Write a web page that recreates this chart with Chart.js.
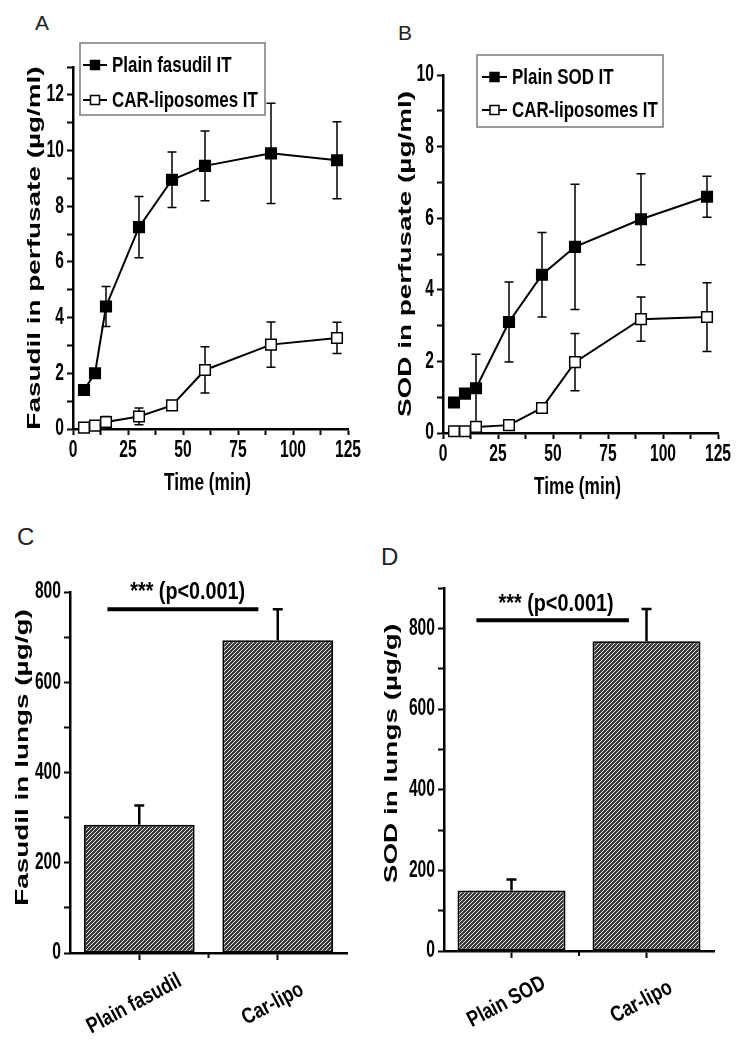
<!DOCTYPE html>
<html>
<head>
<meta charset="utf-8">
<script src="https://cdn.jsdelivr.net/npm/chart.js@4.4.0/dist/chart.umd.min.js"></script>
<style>
  html, body { margin: 0; padding: 0; background: #fff; }
  body { width: 740px; height: 1049px; position: relative; overflow: hidden; }
  canvas { position: absolute; }
  .letter { position: absolute; font-family: "Liberation Sans", Arial, sans-serif; line-height: 1; color: #222; }
</style>
</head>
<body>
<div class="letter" style="left:35px;top:12px;font-size:21px">A</div>
<div class="letter" style="left:398px;top:22px;font-size:21px">B</div>
<div class="letter" style="left:17px;top:525px;font-size:24px">C</div>
<div class="letter" style="left:381px;top:545px;font-size:24px">D</div>
<canvas id="chartA" width="370" height="520" style="left:0;top:0"></canvas>
<canvas id="chartB" width="370" height="520" style="left:370px;top:0"></canvas>
<canvas id="chartC" width="370" height="529" style="left:0;top:520px"></canvas>
<canvas id="chartD" width="370" height="529" style="left:370px;top:520px"></canvas>
<script>
// panel A - fasudil in perfusate
const timeA = [5, 10, 15, 30, 45, 60, 90, 120];
const plainFasudil = [1.4, 2.0, 4.4, 7.25, 8.95, 9.45, 9.9, 9.65];
const plainFasudilErr = [0.1, 0.1, 0.72, 1.1, 1.0, 1.25, 1.8, 1.38];
const carFasudil = [0.05, 0.12, 0.25, 0.45, 0.85, 2.12, 3.03, 3.27];
const carFasudilErr = [0.03, 0.05, 0.2, 0.3, 0.15, 0.83, 0.81, 0.56];

// panel B - SOD in perfusate
const timeB = [5, 10, 15, 30, 45, 60, 90, 120];
const plainSOD = [0.85, 1.1, 1.25, 3.1, 4.42, 5.2, 5.97, 6.6];
const plainSODErr = [0.05, 0.08, 0.95, 1.12, 1.18, 1.75, 1.27, 0.57];
const carSOD = [0.05, 0.05, 0.17, 0.22, 0.7, 1.98, 3.18, 3.24];
const carSODErr = [0.02, 0.02, 0.1, 0.12, 0.08, 0.8, 0.62, 0.96];

// panels C and D - lung content
const groupsC = ["Plain fasudil", "Car-lipo"];
const lungFasudil = [284, 693];
const lungFasudilErr = [43, 69];
const groupsD = ["Plain SOD", "Car-lipo"];
const lungSOD = [150, 768];
const lungSODErr = [27, 80];

const ink = "#000";
const sans = '"Liberation Sans", Arial, sans-serif';

function hatch() {
  const c = document.createElement("canvas");
  c.width = 4; c.height = 4;
  const g = c.getContext("2d");
  g.fillStyle = "#3a3a3a";
  g.fillRect(0, 0, 4, 4);
  g.strokeStyle = "#e8e8e8";
  g.lineWidth = 1;
  g.beginPath();
  g.moveTo(-1, 5); g.lineTo(5, -1);
  g.moveTo(3, 5); g.lineTo(5, 3);
  g.moveTo(-1, 1); g.lineTo(1, -1);
  g.stroke();
  return g.createPattern(c, "repeat");
}
const hatchFill = hatch();

function pts(xs, ys) {
  return xs.map((x, i) => ({ x: x, y: ys[i] }));
}

// bold text squeezed or stretched horizontally like the scanned figure
function drawText(ctx, str, x, y, o) {
  ctx.save();
  ctx.translate(x, y);
  if (o.rotate) ctx.rotate(-o.rotate * Math.PI / 180);
  ctx.scale(o.sx, 1);
  ctx.font = "bold " + o.size + "px " + sans;
  ctx.textAlign = o.align || "center";
  ctx.textBaseline = "middle";
  ctx.fillStyle = ink;
  ctx.fillText(str, 0, 0);
  ctx.restore();
}

function drawErrors(chart, upOnly) {
  const ctx = chart.ctx;
  chart.data.datasets.forEach((ds, i) => {
    if (!ds.errors) return;
    const meta = chart.getDatasetMeta(i);
    const ys = chart.scales[meta.yAxisID];
    const cap = ds.errorCap || 4.5;
    ctx.save();
    ctx.strokeStyle = ink;
    ctx.lineWidth = ds.errorWidth || 1.5;
    meta.data.forEach((el, j) => {
      const raw = ds.data[j];
      const v = typeof raw === "object" ? raw.y : raw;
      const e = ds.errors[j];
      const top = ys.getPixelForValue(v + e);
      const bot = ys.getPixelForValue(upOnly ? v : v - e);
      ctx.beginPath();
      ctx.moveTo(el.x, top); ctx.lineTo(el.x, bot);
      ctx.moveTo(el.x - cap, top); ctx.lineTo(el.x + cap, top);
      if (!upOnly) { ctx.moveTo(el.x - cap, bot); ctx.lineTo(el.x + cap, bot); }
      ctx.stroke();
    });
    ctx.restore();
  });
}

function drawLegend(chart, o) {
  const ctx = chart.ctx, a = chart.chartArea;
  const x0 = a.left + o.dx, y0 = a.top + o.dy;
  ctx.save();
  ctx.fillStyle = "#fff";
  ctx.fillRect(x0, y0, o.w, o.h);
  ctx.strokeStyle = "#7a7a7a";
  ctx.lineWidth = 1.5;
  ctx.strokeRect(x0, y0, o.w, o.h);
  chart.data.datasets.forEach((ds, i) => {
    const cy = y0 + o.firstRow + i * o.rowGap;
    const sx = x0 + o.sampleX;
    ctx.strokeStyle = ink;
    ctx.lineWidth = 2;
    ctx.beginPath(); ctx.moveTo(sx, cy); ctx.lineTo(sx + o.sampleW, cy); ctx.stroke();
    const mx = sx + o.sampleW / 2, s = 4.5;
    ctx.fillStyle = ds.pointBackgroundColor;
    ctx.fillRect(mx - s, cy - s, 2 * s, 2 * s);
    ctx.lineWidth = 1.5;
    ctx.strokeRect(mx - s, cy - s, 2 * s, 2 * s);
    drawText(ctx, ds.label, x0 + o.textX, cy + 1, { size: 22, sx: 0.77, align: "left" });
  });
  ctx.restore();
}

function drawYTitle(chart, o) {
  const a = chart.chartArea;
  drawText(chart.ctx, o.text, o.x, (a.top + a.bottom) / 2 + (o.dy || 0),
    { size: 18, sx: 1.55, rotate: 90 });
}

function drawTickLabels(chart, o) {
  const ctx = chart.ctx, xs = chart.scales.x, ys = chart.scales.y;
  ys.ticks.forEach(t => {
    if (t.value % o.yEvery !== 0) return;
    drawText(ctx, String(t.value), ys.right - 9, ys.getPixelForValue(t.value),
      { size: 23, sx: 0.68, align: "right" });
  });
  if (!o.xEvery) return;
  xs.ticks.forEach(t => {
    if (t.value % o.xEvery !== 0) return;
    drawText(ctx, String(t.value), xs.getPixelForValue(t.value), xs.top + 22,
      { size: 23, sx: 0.68 });
  });
  drawText(ctx, o.xTitle, (xs.left + xs.right) / 2 - 3, xs.top + o.xTitleDy,
    { size: 23, sx: 0.75 });
}

function drawSig(chart, o) {
  const ctx = chart.ctx, xs = chart.scales.x, ys = chart.scales.y;
  const y = ys.getPixelForValue(o.y);
  ctx.save();
  ctx.strokeStyle = ink;
  ctx.lineWidth = 4;
  ctx.beginPath();
  ctx.moveTo(xs.getPixelForValue(o.from), y);
  ctx.lineTo(xs.getPixelForValue(o.to), y);
  ctx.stroke();
  ctx.restore();
  drawText(ctx, o.text, xs.getPixelForValue(o.textX), ys.getPixelForValue(o.textY),
    { size: 23, sx: 0.86 });
}

function drawCategoryLabels(chart, o) {
  const ctx = chart.ctx, xs = chart.scales.x, a = chart.chartArea;
  // small tick between the two groups
  ctx.save();
  ctx.strokeStyle = ink;
  ctx.lineWidth = 2;
  const mid = xs.getPixelForValue(0.5);
  ctx.beginPath(); ctx.moveTo(mid, a.bottom); ctx.lineTo(mid, a.bottom + 5); ctx.stroke();
  ctx.restore();
  chart.data.labels.forEach((lab, i) => {
    drawText(ctx, lab, xs.getPixelForValue(i) + o.dx, a.bottom + o.dy,
      { size: 22, sx: 0.8, rotate: o.angle });
  });
}

const panelExtras = {
  id: "panelExtras",
  beforeDatasetsDraw(chart, args, o) {
    if (o.errorsUnder) drawErrors(chart, false);
  },
  afterDatasetsDraw(chart, args, o) {
    if (!o.errorsUnder) drawErrors(chart, true);
    if (o.sig) drawSig(chart, o.sig);
  },
  afterDraw(chart, args, o) {
    if (o.legend) drawLegend(chart, o.legend);
    if (o.yTitle) drawYTitle(chart, o.yTitle);
    if (o.ticks) drawTickLabels(chart, o.ticks);
    if (o.cats) drawCategoryLabels(chart, o.cats);
  }
};

function yAxis(max, step, width) {
  return {
    min: 0, max: max,
    afterFit: s => { s.width = width; },
    border: { color: ink, width: 2.5 },
    grid: { drawOnChartArea: false, color: ink, tickColor: ink, tickLength: 6, tickWidth: 2 },
    ticks: { stepSize: step, autoSkip: false, display: false }
  };
}

function timeAxis(height) {
  return {
    type: "linear", min: 0, max: 125,
    afterFit: s => { s.height = height; },
    border: { color: ink, width: 2.5 },
    grid: { drawOnChartArea: false, color: ink, tickColor: ink, tickLength: 6, tickWidth: 2 },
    ticks: { stepSize: 12.5, autoSkip: false, display: false }
  };
}

function lineSet(label, xs, ys, errs, filled) {
  return {
    label: label,
    data: pts(xs, ys),
    errors: errs,
    borderColor: ink,
    borderWidth: 2,
    pointStyle: "rect",
    pointRadius: 7.5,
    pointBorderWidth: 1.5,
    pointBorderColor: ink,
    pointBackgroundColor: filled ? ink : "#fff",
    clip: false
  };
}

function lineChart(id, sets, yMax, pad, xHeight, titleDy, yTitle, legend) {
  return new Chart(document.getElementById(id), {
    type: "line",
    data: { datasets: sets },
    options: {
      responsive: false, animation: false, events: [],
      layout: { padding: { left: 0, right: pad.right, top: pad.top, bottom: 0 } },
      plugins: {
        legend: { display: false }, tooltip: { enabled: false },
        panelExtras: {
          errorsUnder: true, yTitle: yTitle, legend: legend,
          ticks: { yEvery: 2, xEvery: 25, xTitle: "Time (min)", xTitleDy: titleDy }
        }
      },
      scales: { x: timeAxis(xHeight), y: yAxis(yMax, 1, 73) }
    },
    plugins: [panelExtras]
  });
}

function barChart(id, groups, values, errs, yMax, pad, yWidth, xHeight, yTitle, sig) {
  return new Chart(document.getElementById(id), {
    type: "bar",
    data: {
      labels: groups,
      datasets: [{
        data: values, errors: errs, errorWidth: 2.5, errorCap: 5,
        backgroundColor: hatchFill, borderColor: ink, borderWidth: 2, borderSkipped: false,
        barPercentage: 0.8, categoryPercentage: 1
      }]
    },
    options: {
      responsive: false, animation: false, events: [],
      layout: { padding: { left: 0, right: pad.right, top: pad.top, bottom: 0 } },
      plugins: {
        legend: { display: false }, tooltip: { enabled: false },
        panelExtras: {
          errorsUnder: false, yTitle: yTitle, sig: sig,
          ticks: { yEvery: 200 },
          cats: { angle: 28, dx: -5, dy: 51 }
        }
      },
      scales: {
        x: {
          type: "category", offset: true,
          afterFit: s => { s.height = xHeight; },
          border: { color: ink, width: 2.5 },
          grid: { offset: false, drawOnChartArea: false, color: ink, tickColor: ink, tickLength: 7, tickWidth: 2 },
          ticks: { display: false }
        },
        y: yAxis(yMax, 100, yWidth)
      }
    },
    plugins: [panelExtras]
  });
}

lineChart("chartA",
  [lineSet("Plain fasudil IT", timeA, plainFasudil, plainFasudilErr, true),
   lineSet("CAR-liposomes IT", timeA, carFasudil, carFasudilErr, false)],
  13, { top: 67, right: 22 }, 91, 55,
  { text: "Fasudil in perfusate (\u00b5g/ml)", x: 35 },
  { dx: 7, dy: -24, w: 185, h: 72, firstRow: 22, rowGap: 35, sampleX: 3, sampleW: 24, textX: 32 });

lineChart("chartB",
  [lineSet("Plain SOD IT", timeB, plainSOD, plainSODErr, true),
   lineSet("CAR-liposomes IT", timeB, carSOD, carSODErr, false)],
  10, { top: 75, right: 22 }, 87, 55,
  { text: "SOD in perfusate (\u00b5g/ml)", x: 36 },
  { dx: 34, dy: -20, w: 186, h: 72, firstRow: 22, rowGap: 33, sampleX: 5, sampleW: 25, textX: 35 });

barChart("chartC", groupsC, lungFasudil, lungFasudilErr, 800, { top: 72, right: 23 }, 70, 96,
  { text: "Fasudil in lungs (\u00b5g/g)", x: 23, dy: -15 },
  { from: -0.23, to: 0.86, y: 762, text: "*** (p<0.001)", textX: 0.35, textY: 798 });

barChart("chartD", groupsD, lungSOD, lungSODErr, 900, { top: 68, right: 26 }, 74, 98,
  { text: "SOD in lungs (\u00b5g/g)", x: 22, dy: -16 },
  { from: -0.26, to: 0.87, y: 820, text: "*** (p<0.001)", textX: 0.33, textY: 858 });
</script>
</body>
</html>
